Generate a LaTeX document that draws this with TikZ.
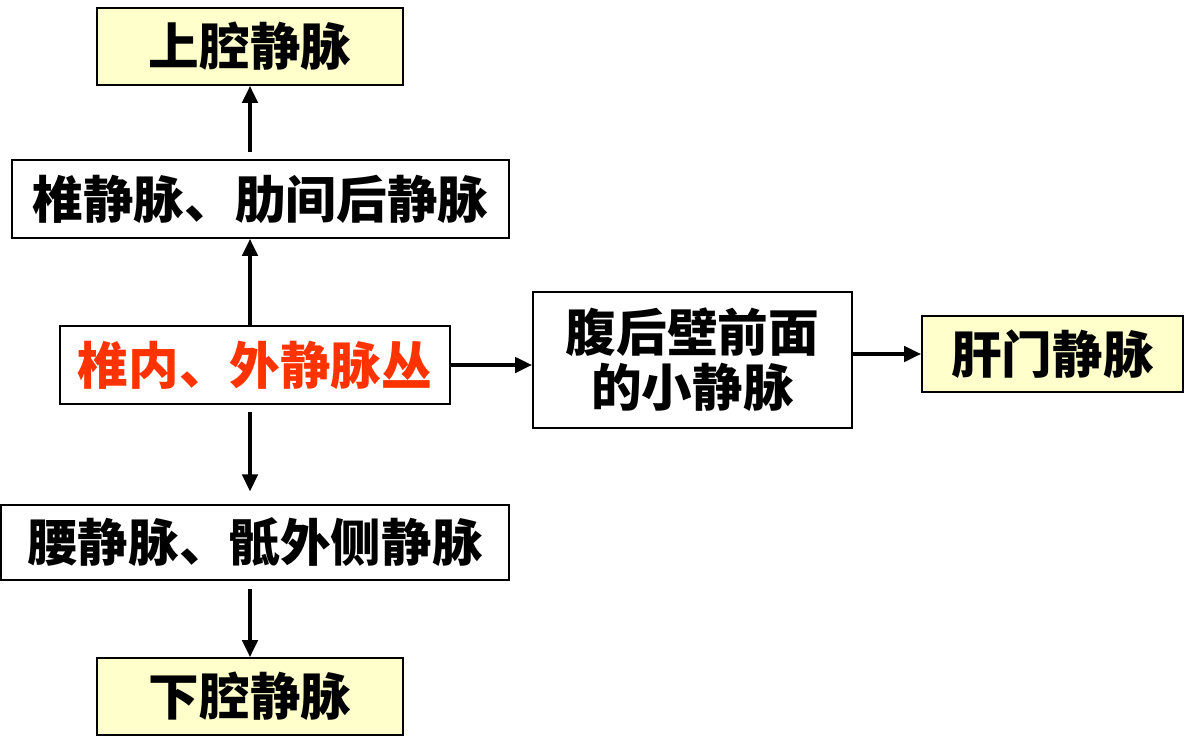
\documentclass[tikz,border=0pt]{standalone}
\usepackage{fontspec}
\newfontfamily\cjk{Noto Sans CJK SC}
\usetikzlibrary{arrows.meta}
\definecolor{paleyellow}{HTML}{FFFFCC}
\definecolor{plexred}{HTML}{FF3300}
\begin{document}
\begin{tikzpicture}[
    x=0.025cm, y=-0.025cm,
    box/.style={draw, line width=1.4pt, inner sep=0pt, font=\cjk\bfseries\fontsize{36}{39}\selectfont, align=center},
    vein/.style={box, fill=paleyellow, minimum width=7.65cm, minimum height=1.925cm},
    arr/.style={-{Triangle[length=12pt, width=11pt]}, line width=2.2pt},
  ]
    \useasboundingbox (0,0) rectangle (1184,756);

    % === Vertical chain ===
    \node[vein] (svc) at (250, 46.5) {上腔静脉};
    \node[box, minimum width=12.425cm, minimum height=1.95cm] (vert) at (260.5, 199) {椎静脉、肋间后静脉};
    \node[box, minimum width=9.75cm, minimum height=1.95cm, text=plexred] (plex) at (255, 365) {椎内、外静脉丛};
    \node[box, minimum width=12.7cm, minimum height=1.875cm] (lumb) at (255, 542.5) {腰静脉、骶外侧静脉};
    \node[vein] (ivc) at (250, 696.5) {下腔静脉};

    % === Right branch ===
    \node[box, minimum width=7.975cm, minimum height=3.4cm] (post) at (692.5, 360) {腹后壁前面\\的小静脉};
    \node[box, fill=paleyellow, minimum width=6.525cm, minimum height=1.9cm] (portal) at (1052.5, 354) {肝门静脉};

    % Arrows
    \draw[arr] (plex.north -| svc.south) -- (vert.south -| svc.south);
    \draw[arr, shorten <=5pt] (vert.north -| svc.south) -- (svc.south);
    \draw[arr, shorten <=5pt, shorten >=9pt] (plex.south -| svc.south) -- (lumb.north -| svc.south);
    \draw[arr, shorten <=6pt] (lumb.south -| svc.south) -- (ivc.north);
    \draw[arr] (plex.east) -- (plex.east -| post.west);
    \draw[arr] (post.east |- portal.west) -- (portal.west);
  \end{tikzpicture}
\end{document}
